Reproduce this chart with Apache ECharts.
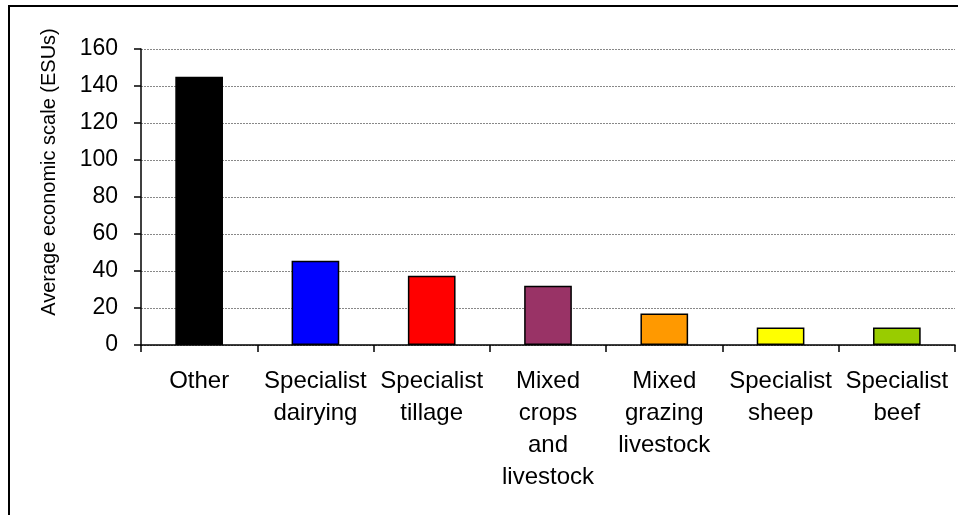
<!DOCTYPE html>
<html>
<head>
<meta charset="utf-8">
<script src="https://cdn.jsdelivr.net/npm/echarts@6/dist/echarts.min.js"></script>
<style>
  html, body { margin: 0; padding: 0; background: #fff; }
  #chart { width: 958px; height: 515px; }
</style>
</head>
<body>
<div id="chart"></div>
<script>
// Farm types and their average economic size
const categories = [
  'Other',
  'Specialist\ndairying',
  'Specialist\ntillage',
  'Mixed\ncrops\nand\nlivestock',
  'Mixed\ngrazing\nlivestock',
  'Specialist\nsheep',
  'Specialist\nbeef'
];
const values = [145, 45.5, 37.5, 32, 17, 9.5, 9.5];
const barColors = ['#000000', '#0000ff', '#ff0000', '#993366', '#ff9900', '#ffff00', '#99cc00'];
const yTicks = [0, 20, 40, 60, 80, 100, 120, 140, 160];
const yTitle = 'Average economic scale (ESUs)';

const font = 'Liberation Sans, Arial, sans-serif';
const chart = echarts.init(document.getElementById('chart'));

chart.setOption({
  animation: false,
  backgroundColor: '#ffffff',
  grid: { left: 141, right: 3, top: 49, bottom: 170, containLabel: false },
  xAxis: {
    type: 'category',
    data: categories,
    axisLine: { lineStyle: { color: '#000', width: 1.5 } },
    axisTick: { show: true, length: 7, lineStyle: { color: '#000', width: 1.5 } },
    axisLabel: {
      color: '#000', fontFamily: font, fontSize: 24, lineHeight: 32,
      margin: 20, interval: 0
    }
  },
  yAxis: {
    type: 'value',
    min: yTicks[0],
    max: yTicks[yTicks.length - 1],
    interval: yTicks[1] - yTicks[0],
    axisLine: { show: true, lineStyle: { color: '#000', width: 1.5 } },
    axisTick: { show: true, length: 7, lineStyle: { color: '#000', width: 1.5 } },
    axisLabel: { color: '#000', fontFamily: font, fontSize: 23, margin: 23 },
    splitLine: { show: true, lineStyle: { color: '#888', width: 1, type: [2, 1] } }
  },
  graphic: [
    {
      type: 'rect',
      shape: { x: 9, y: 6, width: 1000, height: 600 },
      style: { fill: 'none', stroke: '#000', lineWidth: 2 },
      silent: true
    },
    {
      type: 'text',
      x: 49, y: 172,
      rotation: Math.PI / 2,
      style: {
        text: yTitle, fill: '#000', font: '20px ' + font,
        align: 'center', verticalAlign: 'middle'
      }
    }
  ],
  series: [{
    type: 'bar',
    data: values.map((v, i) => ({ value: v, itemStyle: { color: barColors[i] } })),
    barCategoryGap: '59%',
    itemStyle: { borderColor: '#000', borderWidth: 1.5 }
  }]
});
</script>
</body>
</html>
